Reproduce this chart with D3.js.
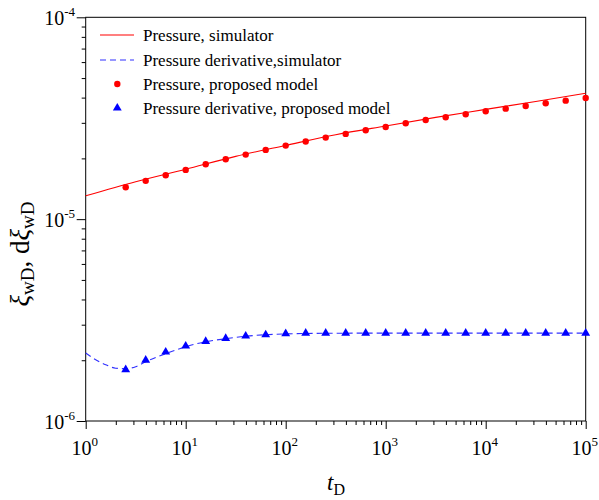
<!DOCTYPE html>
<html>
<head>
<meta charset="utf-8">
<script src="https://cdn.jsdelivr.net/npm/d3@7"></script>
<style>
  body { margin: 0; background: #fff; }
  svg { font-family: "Liberation Serif", "DejaVu Serif", serif; }
  .axis path, .axis line { stroke: #000; stroke-width: 1; }
</style>
</head>
<body>
<svg id="chart" width="599" height="500"></svg>
<script>
// simulator curves (log10 tD, value)
const simPressT = [0, 0.5, 1, 1.5, 2, 2.5, 3, 3.5, 4, 4.5, 5];
const simPressV = [1.304e-5, 1.533e-5, 1.768e-5, 2.046e-5, 2.319e-5, 2.62e-5,
  2.896e-5, 3.192e-5, 3.497e-5, 3.83e-5, 4.205e-5];

const simDerivT = [0, 0.1, 0.2, 0.3, 0.4, 0.5, 0.6, 0.8, 1, 1.2, 1.4, 1.6, 1.8, 2, 2.5, 3, 4, 5];
const simDerivV = [2.171e-6, 2.012e-6, 1.9e-6, 1.826e-6, 1.816e-6, 1.857e-6, 1.966e-6,
  2.154e-6, 2.333e-6, 2.47e-6, 2.556e-6, 2.63e-6, 2.675e-6, 2.7e-6, 2.722e-6,
  2.725e-6, 2.725e-6, 2.725e-6];

// proposed model points
const modelT = [0.4, 0.6, 0.8, 1, 1.2, 1.4, 1.6, 1.8, 2, 2.2, 2.4, 2.6, 2.8, 3,
  3.2, 3.4, 3.6, 3.8, 4, 4.2, 4.4, 4.6, 4.8, 5];
const modelPress = [1.44e-5, 1.548e-5, 1.651e-5, 1.754e-5, 1.872e-5, 1.982e-5,
  2.088e-5, 2.203e-5, 2.314e-5, 2.423e-5, 2.535e-5, 2.644e-5, 2.758e-5, 2.863e-5,
  2.987e-5, 3.101e-5, 3.199e-5, 3.31e-5, 3.425e-5, 3.528e-5, 3.638e-5, 3.752e-5,
  3.865e-5, 3.985e-5];
const modelDeriv = [1.795e-6, 2.0e-6, 2.196e-6, 2.351e-6, 2.478e-6, 2.564e-6,
  2.636e-6, 2.675e-6, 2.706e-6, 2.725e-6, 2.725e-6, 2.725e-6, 2.725e-6, 2.725e-6,
  2.725e-6, 2.725e-6, 2.725e-6, 2.725e-6, 2.725e-6, 2.725e-6, 2.725e-6, 2.725e-6,
  2.725e-6, 2.725e-6];

const xExp = [0, 1, 2, 3, 4, 5];
const yExp = [-6, -5, -4];
const legendLabels = ["Pressure, simulator", "Pressure derivative,simulator",
  "Pressure, proposed model", "Pressure derivative, proposed model"];

const svg = d3.select("#chart");
const plotL = 85.7, plotR = 585.7, plotT = 17.3, plotB = 421;

const x = d3.scaleLog().domain([1, 1e5]).range([plotL, plotR]);
const y = d3.scaleLog().domain([1e-6, 1e-4]).range([plotB, plotT]);

const xMajor = xExp.map((e) => Math.pow(10, e));
const yMajor = yExp.map((e) => Math.pow(10, e));
const xMinor = [];
xExp.slice(0, -1).forEach((e) => d3.range(2, 10).forEach((m) => xMinor.push(m * Math.pow(10, e))));
const yMinor = [];
yExp.slice(0, -1).forEach((e) => d3.range(2, 10).forEach((m) => yMinor.push(m * Math.pow(10, e))));

// frame
svg.append("rect")
  .attr("x", plotL).attr("y", plotT)
  .attr("width", plotR - plotL).attr("height", plotB - plotT)
  .attr("fill", "none").attr("stroke", "#000");

// x axis
svg.append("g").attr("class", "axis")
  .attr("transform", `translate(0,${plotB})`)
  .call(d3.axisBottom(x).tickValues(xMinor).tickSize(4).tickFormat("").tickSizeOuter(0))
  .call((g) => g.select(".domain").remove());
svg.append("g").attr("class", "axis")
  .attr("transform", `translate(0,${plotB})`)
  .call(d3.axisBottom(x).tickValues(xMajor).tickSize(8).tickFormat("").tickSizeOuter(0))
  .call((g) => g.select(".domain").remove());

const xl = svg.append("g").selectAll("text").data(xExp).join("text")
  .attr("x", (d) => x(Math.pow(10, d)) - 1)
  .attr("y", 455)
  .attr("text-anchor", "middle")
  .attr("font-size", 20);
xl.append("tspan").text("10");
xl.append("tspan").attr("dy", -9).attr("font-size", 13).text((d) => d);

// y axis
svg.append("g").attr("class", "axis")
  .attr("transform", `translate(${plotL},0)`)
  .call(d3.axisLeft(y).tickValues(yMinor).tickSize(4).tickFormat("").tickSizeOuter(0))
  .call((g) => g.select(".domain").remove());
svg.append("g").attr("class", "axis")
  .attr("transform", `translate(${plotL},0)`)
  .call(d3.axisLeft(y).tickValues(yMajor).tickSize(9).tickFormat("").tickSizeOuter(0))
  .call((g) => g.select(".domain").remove());

const yl = svg.append("g").selectAll("text").data(yExp).join("text")
  .attr("x", 75)
  .attr("y", (d) => y(Math.pow(10, d)) + 8)
  .attr("text-anchor", "end")
  .attr("font-size", 20);
yl.append("tspan").text("10");
yl.append("tspan").attr("dy", -9).attr("font-size", 13).text((d) => d);

// axis titles
const xt = svg.append("text")
  .attr("x", 327).attr("y", 490)
  .attr("font-size", 23);
xt.append("tspan").attr("font-style", "italic").text("t");
xt.append("tspan").attr("dy", 5).attr("font-size", 16).text("D");

const yt = svg.append("text")
  .attr("transform", "translate(29,254) rotate(-90)")
  .attr("text-anchor", "middle")
  .attr("font-size", 27);
yt.append("tspan").attr("font-style", "italic").text("ξ");
yt.append("tspan").attr("dy", 5).attr("font-size", 19).text("wD");
yt.append("tspan").attr("dy", -5).text(", d");
yt.append("tspan").attr("font-style", "italic").text("ξ");
yt.append("tspan").attr("dy", 5).attr("font-size", 19).text("wD");

// curves
const line = d3.line()
  .x((d) => x(Math.pow(10, d[0])))
  .y((d) => y(d[1]))
  .curve(d3.curveMonotoneX);

svg.append("path")
  .attr("d", line(d3.zip(simPressT, simPressV)))
  .attr("fill", "none").attr("stroke", "#ff0000").attr("stroke-width", 1.1);

svg.append("path")
  .attr("d", line(d3.zip(simDerivT, simDerivV)))
  .attr("fill", "none").attr("stroke", "#3030ff").attr("stroke-width", 1.1)
  .attr("stroke-dasharray", "6,4");

// markers
const tri = d3.symbol().type(d3.symbolTriangle).size(34);

svg.append("g").selectAll("circle").data(d3.zip(modelT, modelPress)).join("circle")
  .attr("cx", (d) => x(Math.pow(10, d[0])))
  .attr("cy", (d) => y(d[1]))
  .attr("r", 3.2)
  .attr("fill", "#ff0000");

svg.append("g").selectAll("path").data(d3.zip(modelT, modelDeriv)).join("path")
  .attr("transform", (d) => `translate(${x(Math.pow(10, d[0]))},${y(d[1])})`)
  .attr("d", tri)
  .attr("fill", "#0000ff");

// legend
const lg = svg.append("g").attr("font-size", 17);
const rowY = [35, 60, 84, 108];
lg.append("line").attr("x1", 100).attr("x2", 134).attr("y1", rowY[0]).attr("y2", rowY[0])
  .attr("stroke", "#ff0000").attr("stroke-width", 1.1);
lg.append("line").attr("x1", 100).attr("x2", 134).attr("y1", rowY[1]).attr("y2", rowY[1])
  .attr("stroke", "#3030ff").attr("stroke-width", 1.1).attr("stroke-dasharray", "6,4");
lg.append("circle").attr("cx", 117.3).attr("cy", rowY[2]).attr("r", 3.2).attr("fill", "#ff0000");
lg.append("path").attr("transform", `translate(117.3,${rowY[3]})`).attr("d", tri).attr("fill", "#0000ff");
lg.selectAll("text").data(legendLabels).join("text")
  .attr("x", 143)
  .attr("y", (d, i) => rowY[i] + 6)
  .text((d) => d);
</script>
</body>
</html>
